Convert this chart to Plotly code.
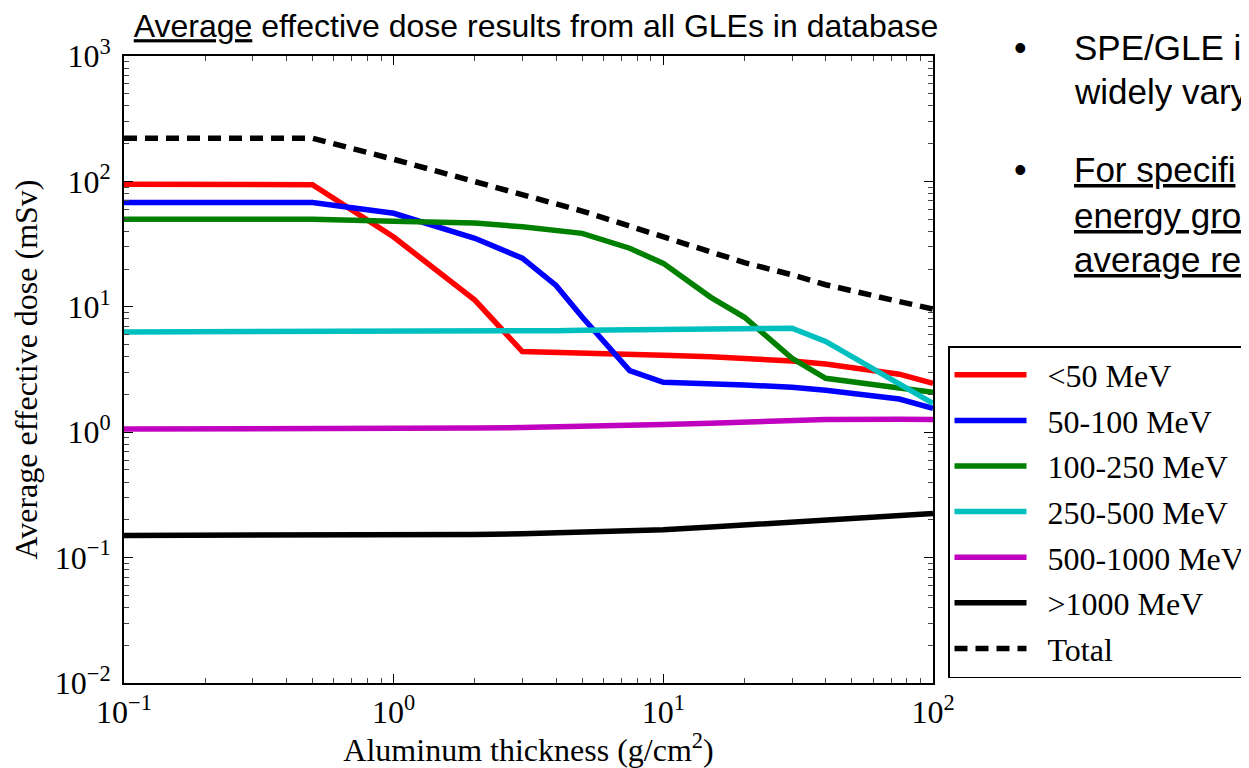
import plotly.graph_objects as go

# Aluminum thickness (g/cm^2)
thickness = [0.1, 0.5, 1, 2, 3, 4, 5, 7.5, 10, 15, 20, 30, 40, 75, 100]

# Average effective dose (mSv) per energy group
dose_lt50 = [95, 94, 36, 11.3, 4.4, 4.35, 4.3, 4.2, 4.1, 4.0, 3.9, 3.7, 3.5, 2.9, 2.45]
dose_50_100 = [68, 68, 55.7, 35.2, 24.4, 14.8, 8.3, 3.1, 2.5, 2.45, 2.38, 2.28, 2.16, 1.84, 1.55]
dose_100_250 = [50, 50, 48, 46.5, 43.5, 40.6, 38.5, 29.3, 22.2, 11.9, 8.25, 3.88, 2.69, 2.25, 2.08]
dose_250_500 = [6.3, 6.3, 6.32, 6.35, 6.4, 6.45, 6.5, 6.55, 6.6, 6.7, 6.8, 6.75, 5.3, 2.4, 1.7]
dose_500_1000 = [1.06, 1.06, 1.07, 1.08, 1.09, 1.1, 1.11, 1.13, 1.15, 1.18, 1.21, 1.24, 1.26, 1.27, 1.26]
dose_gt1000 = [0.15, 0.15, 0.151, 0.153, 0.155, 0.157, 0.159, 0.163, 0.167, 0.175, 0.182, 0.192, 0.2, 0.215, 0.225]
dose_total = [221, 221, 150, 99, 79, 67, 58, 44, 36, 27, 22.5, 18, 15, 11, 9.6]

series_names = ["&lt;50 MeV", "50-100 MeV", "100-250 MeV", "250-500 MeV",
                "500-1000 MeV", "&gt;1000 MeV", "Total"]
series_values = [dose_lt50, dose_50_100, dose_100_250, dose_250_500,
                 dose_500_1000, dose_gt1000, dose_total]
series_colors = ["#ff0000", "#0000ff", "#008000", "#00bfbf", "#bf00bf", "#000000", "#000000"]
series_dash = ["solid"] * 6 + ["13px,8px"]

x_tickvals = [0.1, 1, 10, 100]
x_ticktext = ["10<sup>−1</sup>", "10<sup>0</sup>", "10<sup>1</sup>", "10<sup>2</sup>"]
y_tickvals = [0.01, 0.1, 1, 10, 100, 1000]
y_ticktext = ["10<sup>−2</sup>", "10<sup>−1</sup>", "10<sup>0</sup>", "10<sup>1</sup>",
              "10<sup>2</sup>", "10<sup>3</sup>"]

title_text = "<u>Average</u> effective dose results from all GLEs in database"
bullet_lines = [
    ("•", "SPE/GLE i", 39, False),
    ("", "widely vary", 84, False),
    ("•", "For specifi", 162, True),
    ("", "energy gro", 207, True),
    ("", "average re", 251, True),
]

SERIF = "Liberation Serif, Times New Roman, serif"
SANS = "Liberation Sans, Arial, sans-serif"

fig = go.Figure()
for i, (name, vals, col, dash) in enumerate(zip(series_names, series_values, series_colors, series_dash)):
    fig.add_trace(go.Scatter(
        x=thickness, y=vals, mode="lines", name="\u00a0\u00a0" + name,
        legendgroup=f"g{i}",
        line=dict(color=col, width=5.5, dash=dash),
    ))

minor_x = [m * 10 ** k for k in (-1, 0, 1) for m in range(2, 10)]
minor_y = [m * 10 ** k for k in (-2, -1, 0, 1, 2) for m in range(2, 10)]

# page is offset by the 8px body margin
W, H = 1241, 760
L, R, T, B = 116, 925, 48, 675

fig.update_layout(
    width=W, height=H,
    margin=dict(l=L, r=W - R, t=T, b=H - B, autoexpand=False),
    paper_bgcolor="white", plot_bgcolor="white",
    font=dict(family=SERIF, size=30, color="black"),
    showlegend=True,
    legend=dict(
        x=(940 - L) / (R - L), xanchor="left",
        y=(B - 338) / (B - T), yanchor="top",
        bgcolor="white", bordercolor="black", borderwidth=1.5,
        font=dict(family=SERIF, size=32, color="black"),
        tracegroupgap=1, itemwidth=72,
    ),
    title=dict(
        text=title_text, x=528 / W, xanchor="center", y=1 - 18 / H, yanchor="middle",
        font=dict(family=SANS, size=32, color="black"),
    ),
)

fig.update_xaxes(
    type="log", range=[-1, 2],
    tickmode="array", tickvals=x_tickvals, ticktext=x_ticktext,
    ticks="inside", ticklen=9, tickwidth=1, tickcolor="black",
    minor=dict(tickmode="array", tickvals=minor_x, ticks="inside", ticklen=5,
               tickwidth=1, tickcolor="#444", showgrid=False),
    showline=True, linecolor="black", linewidth=2, mirror="ticks",
    showgrid=False, zeroline=False,
    tickfont=dict(family=SERIF, size=32),
    title=dict(text="Aluminum thickness (g/cm<sup>2</sup>)", standoff=0,
               font=dict(family=SERIF, size=32)),
)
fig.update_yaxes(
    type="log", range=[-2, 3],
    tickmode="array", tickvals=y_tickvals, ticktext=y_ticktext,
    ticks="inside", ticklen=9, tickwidth=1, tickcolor="black",
    minor=dict(tickmode="array", tickvals=minor_y, ticks="inside", ticklen=5,
               tickwidth=1, tickcolor="#444", showgrid=False),
    showline=True, linecolor="black", linewidth=2, mirror="ticks",
    showgrid=False, zeroline=False,
    ticklabelstandoff=5,
    tickfont=dict(family=SERIF, size=32),
    title=dict(text="Average effective dose (mSv)", standoff=14,
               font=dict(family=SERIF, size=32)),
)

for bullet, text, ypx, underline in bullet_lines:
    if bullet:
        fig.add_annotation(
            xref="paper", yref="paper",
            x=(1012 - L) / (R - L), y=(B - ypx) / (B - T),
            text=bullet, showarrow=False, xanchor="center", yanchor="middle",
            font=dict(family=SANS, size=36, color="black"),
        )
    fig.add_annotation(
        xref="paper", yref="paper",
        x=(1064 - L) / (R - L), y=(B - ypx) / (B - T),
        text=f"<u>{text}</u>" if underline else text,
        showarrow=False, xanchor="left", yanchor="middle",
        font=dict(family=SANS, size=35, color="black"),
    )

fig.write_html("out.html")
